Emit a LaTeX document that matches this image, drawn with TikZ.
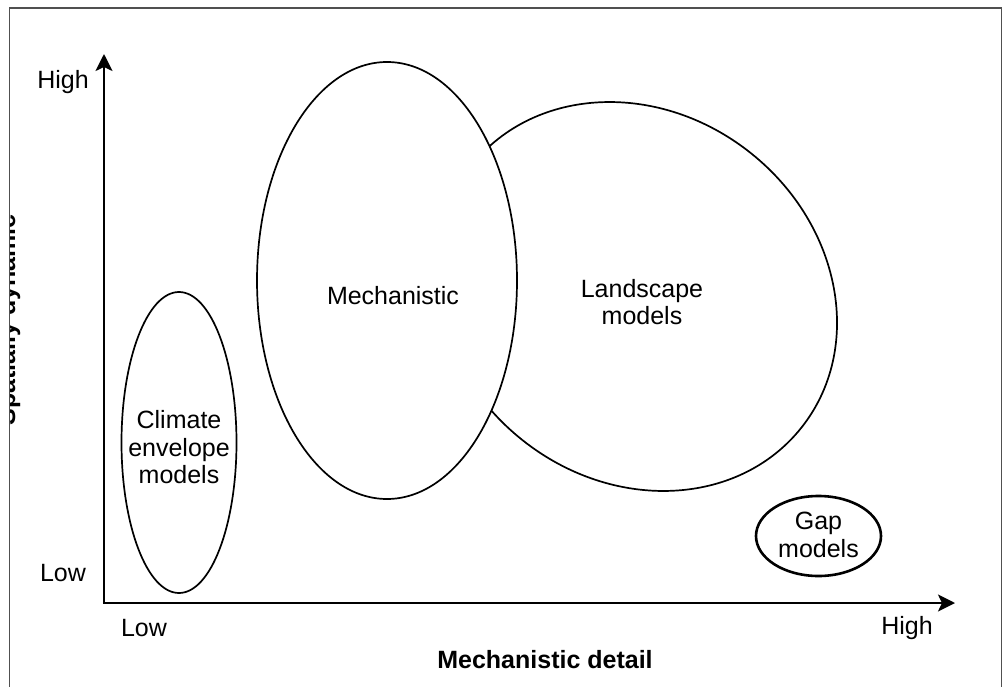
\documentclass[tikz,border=0pt]{standalone}
\usepackage{fontspec}
\setmainfont{Liberation Sans}
\usetikzlibrary{shapes.geometric,arrows.meta}
\definecolor{framegray}{RGB}{80,80,80}
\tikzset{
  blob/.style={draw, ellipse, fill=white, line width=1.7pt, inner sep=0pt},
  axis/.style={line width=2.3pt, -{Stealth[length=17pt, width=17pt, inset=4pt]}},
  lab/.style={inner sep=0pt, align=center, font=\fontsize{25}{27.5}\selectfont},
  axlab/.style={inner sep=0pt, font=\fontsize{25}{27.5}\selectfont\bfseries},
}
\begin{document}
\begin{tikzpicture}[x=1pt,y=-1pt]
\useasboundingbox (0,0) rectangle (1003,687);
% frame
\draw[line width=1.5pt, draw=framegray] (9.5,8) rectangle (1001.5,700);
% clipped y-axis title
\begin{scope}
\clip (10.5,9) rectangle (1000,686);
\node[axlab, rotate=90, anchor=base] (ytitle) at (15,320) {Spatially dynamic};
\end{scope}
% ellipses
\node[blob, rotate=-38.6, minimum width=421.4pt, minimum height=366.8pt] (land) at (636.5,296.5) {};
\node[lab] (landt) at (642,302) {Landscape\\models};
\node[blob, minimum width=260pt, minimum height=437pt] (mech) at (387,280.5) {};
\node[lab] (mecht) at (393,296) {Mechanistic};
\node[blob, minimum width=115pt, minimum height=301pt] (clim) at (179,442.5) {};
\node[lab] (climt) at (179,447.5) {Climate\\envelope\\models};
\node[blob, line width=2.6pt, minimum width=125pt, minimum height=80pt] (gap) at (818.5,536) {};
\node[lab] (gapt) at (818.5,535) {Gap\\models};
% axes
\coordinate (o) at (104,603);
\coordinate (ytip) at (104,54);
\coordinate (xtip) at (955,603);
\draw[axis] ([yshift=1.15pt]o) -- (ytip);
\draw[axis] ([xshift=-1.15pt]o) -- (xtip);
% labels
\node[lab] (yhigh) at (63,82) {High};
\node[lab] (ylow) at (63,573) {Low};
\node[lab] (xlow) at (144,628) {Low};
\node[lab] (xhigh) at (907,628) {High};
\node[axlab] (xtitle) at (545,660) {Mechanistic detail};
\end{tikzpicture}
\end{document}
